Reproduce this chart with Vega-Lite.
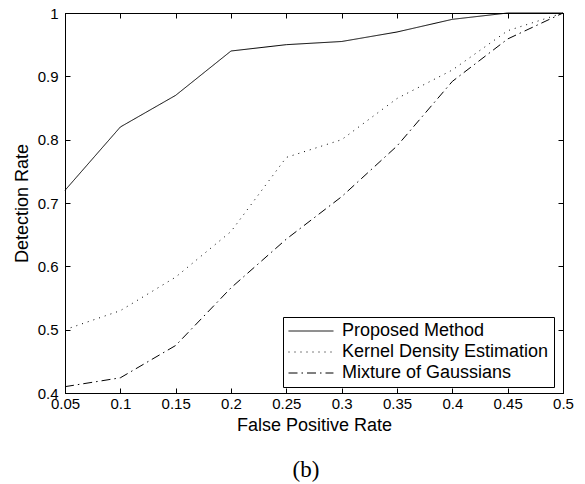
{
  "$schema": "https://vega.github.io/schema/vega-lite/v6.json",
  "width": 498,
  "height": 380,
  "autosize": "none",
  "padding": {"left": 65, "top": 13, "right": 22, "bottom": 91},
  "background": "white",
  "title": {
    "text": "(b)",
    "orient": "bottom",
    "anchor": "middle",
    "font": "Liberation Serif",
    "fontSize": 23,
    "fontWeight": "normal",
    "color": "black",
    "offset": 25,
    "dx": -8
  },
  "config": {
    "font": "Liberation Sans",
    "view": {"stroke": "black", "strokeWidth": 1},
    "axis": {
      "domainColor": "black",
      "tickColor": "black",
      "labelColor": "black",
      "titleColor": "black",
      "labelFont": "Liberation Sans",
      "titleFont": "Liberation Sans",
      "labelFontSize": 15,
      "titleFontSize": 18,
      "titleFontWeight": "normal",
      "grid": false,
      "tickSize": -5,
      "labelFlush": false,
      "labelOverlap": false
    }
  },
  "data": {
    "values": [
      {"fpr": 0.05, "rate": 0.72, "method": "Proposed Method"},
      {"fpr": 0.1, "rate": 0.82, "method": "Proposed Method"},
      {"fpr": 0.15, "rate": 0.87, "method": "Proposed Method"},
      {"fpr": 0.2, "rate": 0.94, "method": "Proposed Method"},
      {"fpr": 0.25, "rate": 0.95, "method": "Proposed Method"},
      {"fpr": 0.3, "rate": 0.955, "method": "Proposed Method"},
      {"fpr": 0.35, "rate": 0.97, "method": "Proposed Method"},
      {"fpr": 0.4, "rate": 0.99, "method": "Proposed Method"},
      {"fpr": 0.45, "rate": 1.0, "method": "Proposed Method"},
      {"fpr": 0.5, "rate": 1.0, "method": "Proposed Method"},
      {"fpr": 0.05, "rate": 0.5, "method": "Kernel Density Estimation"},
      {"fpr": 0.1, "rate": 0.53, "method": "Kernel Density Estimation"},
      {"fpr": 0.15, "rate": 0.583, "method": "Kernel Density Estimation"},
      {"fpr": 0.2, "rate": 0.655, "method": "Kernel Density Estimation"},
      {"fpr": 0.25, "rate": 0.772, "method": "Kernel Density Estimation"},
      {"fpr": 0.3, "rate": 0.80, "method": "Kernel Density Estimation"},
      {"fpr": 0.35, "rate": 0.865, "method": "Kernel Density Estimation"},
      {"fpr": 0.4, "rate": 0.91, "method": "Kernel Density Estimation"},
      {"fpr": 0.45, "rate": 0.972, "method": "Kernel Density Estimation"},
      {"fpr": 0.5, "rate": 1.0, "method": "Kernel Density Estimation"},
      {"fpr": 0.05, "rate": 0.41, "method": "Mixture of Gaussians"},
      {"fpr": 0.1, "rate": 0.424, "method": "Mixture of Gaussians"},
      {"fpr": 0.15, "rate": 0.475, "method": "Mixture of Gaussians"},
      {"fpr": 0.2, "rate": 0.566, "method": "Mixture of Gaussians"},
      {"fpr": 0.25, "rate": 0.643, "method": "Mixture of Gaussians"},
      {"fpr": 0.3, "rate": 0.71, "method": "Mixture of Gaussians"},
      {"fpr": 0.35, "rate": 0.79, "method": "Mixture of Gaussians"},
      {"fpr": 0.4, "rate": 0.892, "method": "Mixture of Gaussians"},
      {"fpr": 0.45, "rate": 0.959, "method": "Mixture of Gaussians"},
      {"fpr": 0.5, "rate": 1.0, "method": "Mixture of Gaussians"}
    ]
  },
  "layer": [
    {
      "mark": {"type": "line", "color": "black", "strokeWidth": 1},
      "encoding": {
        "x": {
          "field": "fpr",
          "type": "quantitative",
          "scale": {"domain": [0.05, 0.5], "nice": false, "zero": false},
          "axis": {
            "orient": "bottom",
            "title": "False Positive Rate",
            "values": [0.05, 0.1, 0.15, 0.2, 0.25, 0.3, 0.35, 0.4, 0.45, 0.5],
            "format": "~g",
            "labelPadding": 8,
            "titlePadding": 5
          }
        },
        "y": {
          "field": "rate",
          "type": "quantitative",
          "scale": {"domain": [0.4, 1], "nice": false, "zero": false},
          "axis": {
            "orient": "left",
            "title": "Detection Rate",
            "values": [0.4, 0.5, 0.6, 0.7, 0.8, 0.9, 1],
            "format": "~g",
            "labelPadding": 12,
            "titlePadding": 6
          }
        },
        "strokeDash": {
          "field": "method",
          "type": "nominal",
          "sort": null,
          "scale": {
            "domain": ["Proposed Method", "Kernel Density Estimation", "Mixture of Gaussians"],
            "range": [[1, 0], [1, 5], [9, 4, 1.5, 4]]
          },
          "legend": {
            "title": null,
            "orient": "none",
            "legendX": 218,
            "legendY": 304,
            "direction": "vertical",
            "strokeColor": "black",
            "fillColor": "white",
            "padding": 5,
            "cornerRadius": 0,
            "symbolType": "M-1,0H4.29",
            "symbolSize": 289,
            "symbolStrokeWidth": 1,
            "symbolStrokeColor": "black",
            "labelFont": "Liberation Sans",
            "labelFontSize": 18,
            "labelColor": "black",
            "labelOffset": 36,
            "labelLimit": 400,
            "rowPadding": 3
          }
        }
      }
    },
    {
      "mark": {"type": "line", "opacity": 0},
      "encoding": {
        "x": {
          "field": "fpr",
          "type": "quantitative",
          "axis": {
            "orient": "top",
            "title": null,
            "labels": false,
            "values": [0.05, 0.1, 0.15, 0.2, 0.25, 0.3, 0.35, 0.4, 0.45, 0.5]
          }
        },
        "y": {
          "field": "rate",
          "type": "quantitative",
          "axis": {
            "orient": "right",
            "title": null,
            "labels": false,
            "values": [0.4, 0.5, 0.6, 0.7, 0.8, 0.9, 1]
          }
        },
        "detail": {"field": "method"}
      }
    }
  ],
  "resolve": {"axis": {"x": "independent", "y": "independent"}}
}
